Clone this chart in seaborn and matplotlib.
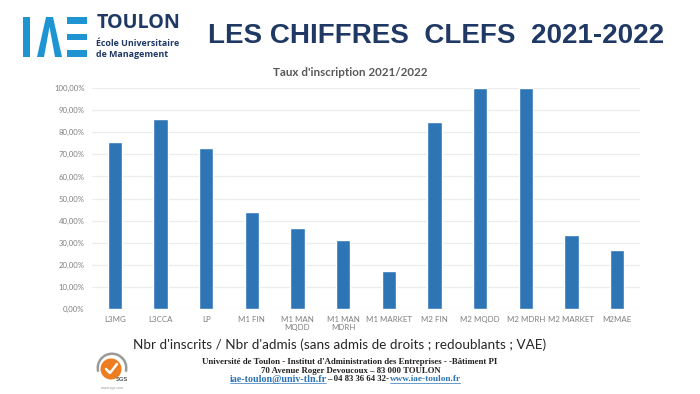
import matplotlib
matplotlib.use('Agg')
import matplotlib.pyplot as plt
from matplotlib.patches import Polygon, Rectangle, Wedge, Circle
import pandas as pd
import seaborn as sns

formations = ['L3MG', 'L3CCA', 'LP', 'M1 FIN', 'M1 MAN\nMQDD', 'M1 MAN\nMDRH', 'M1 MARKET',
              'M2 FIN', 'M2 MQDD', 'M2 MDRH', 'M2 MARKET', 'M2MAE']
taux = [75.8, 86.0, 73.0, 44.1, 36.7, 31.1, 16.9, 84.8, 100, 100, 33.3, 26.5]
y_ticks = list(range(0, 101, 10))
y_labels = [f'{v},00%' for v in y_ticks]

W, H = 700, 394
BLEU_LOGO = '#1f94d2'
MARINE = '#1f3864'
GRIS = '#7f7f7f'

sns.set_theme(style='white')
plt.rcParams['font.family'] = ['Lato', 'DejaVu Sans']

df = pd.DataFrame({'formation': formations, 'taux': taux})

fig = plt.figure(figsize=(W / 100, H / 100), dpi=100, facecolor='white')

# graphique
ax = fig.add_axes([92 / W, 1 - 308.7 / H, 548 / W, 220.4 / H])
sns.barplot(data=df, x='formation', y='taux', color='#2e75b6', saturation=1, width=0.31, ax=ax)
ax.set_xlim(-0.5, 11.5)
ax.set_ylim(0, 100)
ax.set_yticks(y_ticks, y_labels)
ax.set_xlabel('')
ax.set_ylabel('')
ax.set_axisbelow(True)
ax.grid(axis='y', color='#ececec', linewidth=0.9)
ax.tick_params(axis='x', length=0, labelsize=5.7, labelcolor=GRIS, pad=5.5)
ax.tick_params(axis='y', length=0, labelsize=5.6, labelcolor=GRIS, pad=5.4)
sns.despine(ax=ax, left=True, bottom=True)
for lab in ax.get_xticklabels():
    lab.set_linespacing(1.15)

# calque en pixels pour l'en-tete et le pied de page
deco = fig.add_axes([0, 0, 1, 1], zorder=5)
deco.set_xlim(0, W)
deco.set_ylim(H, 0)
deco.axis('off')

# logo IAE
deco.add_patch(Rectangle((23, 17), 6.5, 40, color=BLEU_LOGO, lw=0))
deco.add_patch(Polygon([(37, 57), (46, 17), (53, 17), (62, 57), (55, 57), (49.5, 27), (44, 57)],
                       color=BLEU_LOGO, lw=0))
for y0 in (17, 33.5, 50):
    deco.add_patch(Rectangle((67, y0), 20, 6.8, color=BLEU_LOGO, lw=0))
deco.text(96.5, 23, 'TOULON', family='Open Sans', weight='bold', fontsize=14.2, color=MARINE,
          va='center', ha='left')
deco.text(96.5, 43.5, 'École Universitaire', family='Open Sans', weight='bold', fontsize=6.4, color=MARINE,
          va='center', ha='left')
deco.text(96.5, 54, 'de Management', family='Open Sans', weight='bold', fontsize=6.4, color=MARINE,
          va='center', ha='left')

deco.text(436, 35.5, 'LES CHIFFRES  CLEFS  2021-2022', family='Liberation Sans', weight='bold',
          fontsize=20, color=MARINE, ha='center', va='center')
deco.text(350, 72, "Taux d'inscription 2021/2022", family='Lato', weight='bold', fontsize=8.4,
          color='#595959', ha='center', va='center')
deco.text(340, 345, "Nbr d'inscrits / Nbr d'admis (sans admis de droits ; redoublants ; VAE)",
          family='Lato', fontsize=9.7, color='#262626', ha='center', va='center')

# pied de page
deco.text(350, 362, "Université de Toulon - Institut d'Administration des Entreprises - -Bâtiment PI",
          family='Liberation Serif', weight='bold', fontsize=6.3, color='#222222', ha='center', va='center')
deco.text(351, 370.7, '70 Avenue Roger Devoucoux – 83 000 TOULON',
          family='Liberation Serif', weight='bold', fontsize=6.3, color='#222222', ha='center', va='center')
deco.text(230, 379.3, 'iae-toulon@univ-tln.fr', family='Liberation Serif', weight='bold', fontsize=7.2,
          color='#2e74b5', ha='left', va='center')
deco.text(327, 379.3, '– 04 83 36 64 32-', family='Liberation Serif', weight='bold', fontsize=6.3,
          color='#222222', ha='left', va='center')
deco.text(390, 379.3, 'www.iae-toulon.fr', family='Liberation Serif', weight='bold', fontsize=6.7,
          color='#2e74b5', ha='left', va='center')
deco.plot([230, 326], [383, 383], color='#2e74b5', lw=0.5)
deco.plot([390, 460], [383, 383], color='#2e74b5', lw=0.5)

# cachet
deco.add_patch(Wedge((112, 368), 15.5, 165, 375, width=2.5, color='#9a9a9a', lw=0))
deco.add_patch(Circle((111, 369), 10.5, color='#ee7d22', lw=0))
deco.plot([106, 110, 117], [369, 373, 364], color='white', lw=1.8)
deco.text(122, 379.5, 'SGS', family='Liberation Sans', weight='bold', fontsize=4.2, color='#555555',
          ha='center', va='center')
deco.text(112, 388, 'www.sgs.com', family='Liberation Sans', fontsize=2.6, color='#999999',
          ha='center', va='center')

fig.savefig('out.png', dpi=100)
